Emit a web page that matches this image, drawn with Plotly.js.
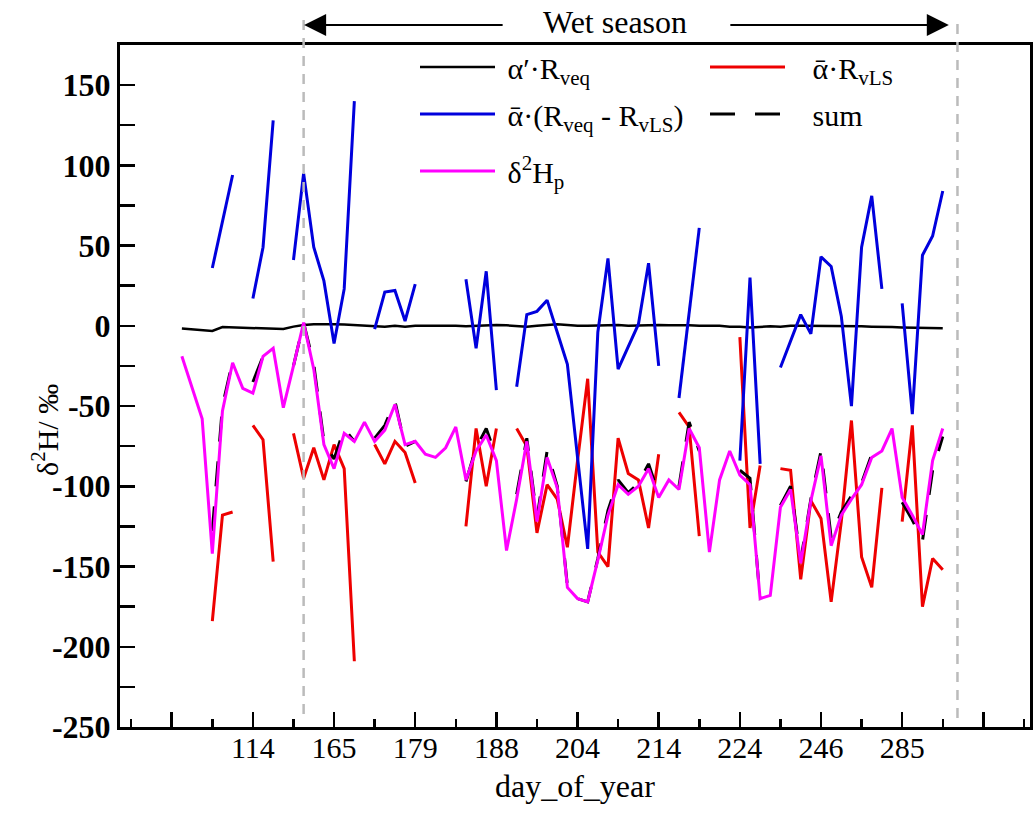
<!DOCTYPE html>
<html><head><meta charset="utf-8">
<script src="https://cdn.plot.ly/plotly-3.0.1.min.js"></script>
<style>body{margin:0;background:#fff}#chart{width:1035px;height:814px}</style>
</head><body><div id="chart"></div>
<script>
// sample number along the x axis (one value per sample)
const sampleIndex = Array.from({length: 76}, (_, k) => k + 1);

// x tick positions (every 8th sample) and their day_of_year labels
const tickPositions = [0, 8, 16, 24, 32, 40, 48, 56, 64, 72, 80];
const tickLabels = ['', '114', '165', '179', '188', '204', '214', '224', '246', '285', ''];
const minorTickPositions = [-4, 4, 12, 20, 28, 36, 44, 52, 60, 68, 76, 84];

// y ticks
const yTickValues = [-250, -200, -150, -100, -50, 0, 50, 100, 150];
const yTickLabels = ['-250', '-200', '-150', '-100', '-50', '0', '50', '100', '150'];

// α′·Rveq
const alphaPrimeRveq = [
  -1.7, -2.2, -2.5, -3.2, -0.8, -1, -1, -1.2, -1.5, -1.5,
  -2, -0.5, 0.5, 1, 1.2, 1, 0.8, 0.5, 0.3, 0,
  -0.5, 0, -0.5, 0, 0, 0.3, 0, 0, -0.3, 0,
  0.5, 0.5, 0.3, 0, -0.5, 0, 0.3, 1, 0.5, 0,
  0, 0.3, 0.5, 0.5, 0, 0.3, 0.5, 0.5, 0.3, 0.5,
  0.3, 0, 0, 0, -0.5, -0.5, -1, -0.5, -0.3, -0.5,
  0, 0, 0, 0, 0, 0, 0, -0.3, -0.5, -0.5,
  -0.8, -1, -1.2, -1.2, -1.3, -1.5
];

// ᾱ·RvLS
const alphaBarRvLS = [
  null, null, null, -184, -118, -116, null, -62, -71, -147,
  null, -67, -95, -76, -96, -74, -89, -209, null, -74,
  -86, -72, -79, -98, null, null, null, null, -125, -64,
  -100, -64, null, -64, -75, -129, -99, -108, -138, -84,
  -33, -141, -150, -70, -92, -96, -126, -80, null, -54,
  -63, -131, null, null, null, -7, -126, -87, null, -89,
  -90, -158, -109, -120, -172, -122, -59, -144, -163, -101,
  null, -122, -62, -175, -145, -152
];

// ᾱ·(Rveq - RvLS)
const alphaBarDiff = [
  null, null, null, 36, 65, 94, null, 17, 49, 128,
  null, 41, 95, 49, 28, -11, 23, 140, null, -2,
  21, 22, 3, 26, null, null, null, null, 29, -14,
  34, -40, null, -38, 7, 9, 16, -4, -24, -82,
  -139, -4, 42, -27, -13, 1, 39, -25, null, -45,
  8, 61, null, null, null, -84, 30, -86, null, -26,
  -10, 7, -5, 43, 37, 6, -50, 49, 81, 23,
  null, 14, -55, 44, 56, 84
];

// sum
const sumSeries = [
  null, null, null, -128, -50, -22, null, -35, -19, -14,
  null, -25, 2, -24, -72, -83, -64, -72, null, -70,
  -62, -47, -75, -72, null, null, null, null, -97, -76,
  -64, -82, null, -105, -70, -120, -78, -100, -162, -170,
  -172, -145, -115, -96, -104, -98, -86, -105, null, -100,
  -60, -78, null, null, null, -90, -95, -171, null, -112,
  -100, -146, -108, -78, -132, -116, -106, -98, -80, -77,
  null, -110, -121, -134, -90, -69
];

// δ2Hp
const delta2Hp = [
  -19, -39, -58, -142, -53, -23, -39, -42, -19, -14,
  -51, -25, 2, -27, -74, -89, -67, -72, -60, -72,
  -65, -49, -74, -72, -80, -82, -76, -63, -96, -78,
  -68, -84, -140, -108, -72, -122, -82, -101, -163, -170,
  -172, -146, -118, -99, -105, -100, -89, -107, -96, -102,
  -64, -76, -141, -96, -78, -93, -99, -170, -168, -113,
  -102, -148, -109, -81, -137, -118, -108, -99, -82, -78,
  -64, -107, -118, -130, -84, -64
];

const serif = 'Liberation Serif, Times New Roman, serif';
const sp = '\u00a0';

const traces = [
  {x: sampleIndex, y: alphaPrimeRveq, name: sp + 'α′·R<sub>veq</sub>', mode: 'lines',
   line: {color: '#000000', width: 2.5}, legend: 'legend', legendgroup: 'a', connectgaps: false},
  {x: sampleIndex, y: alphaBarRvLS, name: sp + sp + sp + 'ᾱ·R<sub>vLS</sub>', mode: 'lines',
   line: {color: '#ee0000', width: 3}, legend: 'legend2', legendgroup: 'b', connectgaps: false},
  {x: sampleIndex, y: alphaBarDiff, name: sp + 'ᾱ·(R<sub>veq</sub> - R<sub>vLS</sub>)', mode: 'lines',
   line: {color: '#0000dd', width: 3}, legend: 'legend', legendgroup: 'c', connectgaps: false},
  {x: sampleIndex, y: sumSeries, name: sp + sp + sp + 'sum', mode: 'lines',
   line: {color: '#000000', width: 3, dash: '25px,20px'}, legend: 'legend2', legendgroup: 'd', connectgaps: false},
  {x: sampleIndex, y: delta2Hp, name: sp + 'δ<sup>2</sup>H<sub>p</sub>', mode: 'lines',
   line: {color: '#ff00ff', width: 3}, legend: 'legend3', legendgroup: 'e', connectgaps: false}
];

const plotL = 120, plotR = 1030, plotT = 45, plotB = 727;
const px2x = p => (p - plotL) / (plotR - plotL);
const py2y = p => (plotB - p) / (plotB - plotT);

const legendBase = {
  xanchor: 'left', yanchor: 'top',
  bgcolor: 'rgba(0,0,0,0)', borderwidth: 0,
  font: {family: serif, size: 30, color: '#000'},
  itemwidth: 75, tracegroupgap: 5, traceorder: 'grouped'
};

const layout = {
  width: 1035, height: 814,
  margin: {l: 120, r: 5, t: 45, b: 87, pad: 0},
  paper_bgcolor: '#ffffff', plot_bgcolor: '#ffffff',
  font: {family: serif, color: '#000000'},
  showlegend: true,
  xaxis: {
    range: [-5.1, 84.6],
    tickmode: 'array', tickvals: tickPositions, ticktext: tickLabels,
    ticks: 'inside', ticklen: 15, tickwidth: 2.5, tickcolor: '#000',
    minor: {tickmode: 'array', tickvals: minorTickPositions, ticks: 'inside', ticklen: 8, tickwidth: 2.5, tickcolor: '#000'},
    showline: true, linewidth: 3, linecolor: '#000', mirror: true,
    showgrid: false, zeroline: false,
    ticklabelstandoff: -8,
    tickfont: {family: serif, size: 30, color: '#000'},
    title: {text: ''}
  },
  yaxis: {
    range: [-250, 175],
    tickmode: 'array', tickvals: yTickValues, ticktext: yTickLabels,
    ticks: 'inside', ticklen: 15, tickwidth: 2.5, tickcolor: '#000',
    minor: {dtick: 25, tick0: 0, ticks: 'inside', ticklen: 15, tickwidth: 2.5, tickcolor: '#000'},
    showline: true, linewidth: 3, linecolor: '#000', mirror: true,
    showgrid: false, zeroline: false,
    tickfont: {family: serif, size: 32, color: '#000', weight: 'bold'},
    title: {text: ''}
  },
  legend: Object.assign({x: px2x(415), y: py2y(41)}, legendBase),
  legend2: Object.assign({x: px2x(705), y: py2y(41)}, legendBase),
  legend3: Object.assign({x: px2x(415), y: py2y(145)}, legendBase),
  shapes: [
    {type: 'line', xref: 'x', yref: 'paper', x0: 13, x1: 13, y0: py2y(20), y1: py2y(716),
     line: {color: '#bbbbbb', width: 2.5, dash: '10px,8px'}},
    {type: 'line', xref: 'x', yref: 'paper', x0: 77.45, x1: 77.45, y0: py2y(24), y1: py2y(718),
     line: {color: '#bbbbbb', width: 2.5, dash: '10px,8px'}}
  ],
  annotations: [
    {text: 'Wet season', xref: 'paper', yref: 'paper', x: px2x(615), y: py2y(22),
     showarrow: false, font: {family: serif, size: 32, color: '#000'}, xanchor: 'center', yanchor: 'middle'},
    {text: '', xref: 'x', yref: 'paper', x: 13.05, y: py2y(25), axref: 'pixel', ayref: 'pixel',
     ax: 200, ay: 0, showarrow: true, arrowhead: 2, arrowsize: 2.2, arrowwidth: 2, arrowcolor: '#000', standoff: 0},
    {text: '', xref: 'x', yref: 'paper', x: 76.6, y: py2y(25), axref: 'pixel', ayref: 'pixel',
     ax: -220, ay: 0, showarrow: true, arrowhead: 2, arrowsize: 2.2, arrowwidth: 2, arrowcolor: '#000', standoff: 0},
    {text: 'δ<sup>2</sup>H/ ‰', xref: 'paper', yref: 'paper', x: px2x(45), y: py2y(430),
     textangle: -90, showarrow: false, xanchor: 'center', yanchor: 'middle',
     font: {family: serif, size: 30, color: '#000'}},
    {text: 'day_of_year', xref: 'paper', yref: 'paper', x: px2x(575), y: py2y(786),
     showarrow: false, xanchor: 'center', yanchor: 'middle',
     font: {family: serif, size: 32, color: '#000'}}
  ]
};

Plotly.newPlot('chart', traces, layout, {displayModeBar: false, staticPlot: true});
</script>
</body></html>
